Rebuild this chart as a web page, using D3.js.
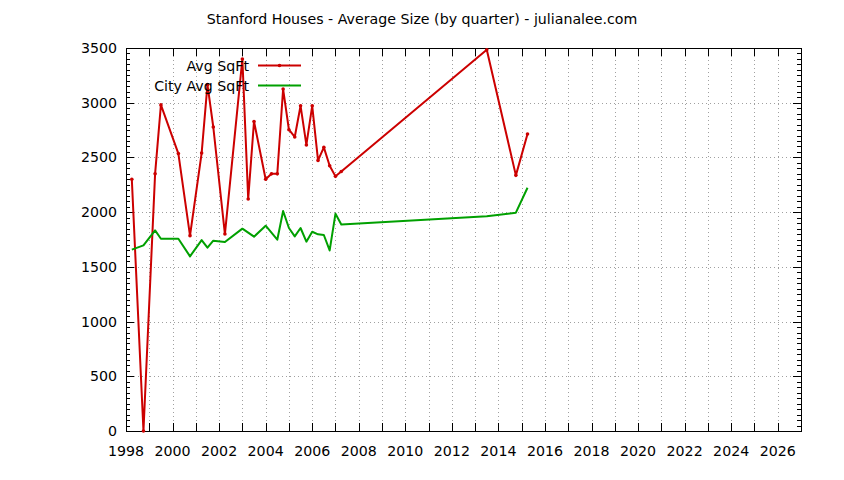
<!DOCTYPE html>
<html>
<head>
<meta charset="utf-8">
<script src="https://cdn.jsdelivr.net/npm/d3@7"></script>
<style>
  body { margin: 0; background: #fff; }
  svg text { font-family: "DejaVu Sans", sans-serif; font-size: 14.2px; fill: #000; }
</style>
</head>
<body>
<svg id="chart" width="844" height="480"></svg>
<script>
// Stanford average sqft by quarter
var avgYears = [1998.25, 1998.75, 1999.25, 1999.5, 2000.25, 2000.75, 2001.25, 2001.5, 2001.75, 2002.25,
  2003.0, 2003.25, 2003.5, 2004.0, 2004.25, 2004.5, 2004.75, 2005.0, 2005.25, 2005.5,
  2005.75, 2006.0, 2006.25, 2006.5, 2006.75, 2007.0, 2007.25, 2013.5, 2014.75, 2015.25];
var avgSqft = [2300, 0, 2350, 2980, 2535, 1785, 2540, 3165, 2778, 1800,
  3400, 2120, 2829, 2300, 2350, 2350, 3125, 2753, 2687, 2972,
  2614, 2972, 2473, 2592, 2424, 2327, 2372, 3484, 2336, 2714];

// city average
var cityYears = [1998.25, 1998.75, 1999.25, 1999.5, 2000.25, 2000.75, 2001.25, 2001.5, 2001.75, 2002.25,
  2003.0, 2003.5, 2004.0, 2004.5, 2004.75, 2005.0, 2005.25, 2005.5, 2005.75, 2006.0,
  2006.25, 2006.5, 2006.75, 2007.0, 2007.25, 2013.5, 2014.75, 2015.25];
var citySqft = [1657, 1696, 1833, 1757, 1757, 1596, 1745, 1675, 1739, 1727,
  1849, 1776, 1876, 1748, 2010, 1855, 1778, 1855, 1730, 1821,
  1797, 1791, 1650, 1986, 1888, 1962, 1995, 2223];

var yTicks = [0, 500, 1000, 1500, 2000, 2500, 3000, 3500];
var xLabels = [1998, 2000, 2002, 2004, 2006, 2008, 2010, 2012, 2014, 2016, 2018, 2020, 2022, 2024, 2026];

var svg = d3.select("#chart");
// plot box (note: "top" is taken by window.top)
var pLeft = 126, pRight = 801, pTop = 48, pBottom = 431;

var x = d3.scaleLinear().domain([1998, 2027]).range([pLeft, pRight]);
var y = d3.scaleLinear().domain([0, 3500]).range([pBottom, pTop]);

var years = d3.range(1998, 2027);
var minorY = d3.range(0, 3501, 50);

// grid
var grid = svg.append("g").attr("stroke", "#a0a0a0").attr("stroke-width", 1).attr("stroke-dasharray", "1,3");
grid.selectAll(".gx").data(years.slice(1)).enter().append("line")
  .attr("x1", function(d) { return Math.round(x(d)) + 0.5; })
  .attr("x2", function(d) { return Math.round(x(d)) + 0.5; })
  .attr("y1", pTop).attr("y2", pBottom);
grid.selectAll(".gy").data(yTicks.slice(1, -1)).enter().append("line")
  .attr("y1", function(d) { return Math.round(y(d)) + 0.5; })
  .attr("y2", function(d) { return Math.round(y(d)) + 0.5; })
  .attr("x1", pLeft).attr("x2", pRight);

// ticks, all four sides
var ticks = svg.append("g").attr("stroke", "#000").attr("stroke-width", 1);
years.forEach(function(d) {
  var px = Math.round(x(d)) + 0.5;
  ticks.append("line").attr("x1", px).attr("x2", px).attr("y1", pBottom).attr("y2", pBottom - 8);
  ticks.append("line").attr("x1", px).attr("x2", px).attr("y1", pTop).attr("y2", pTop + 8);
});
minorY.forEach(function(d) {
  var py = Math.round(y(d)) + 0.5;
  var len = d % 500 == 0 ? 8 : 4;
  ticks.append("line").attr("x1", pLeft).attr("x2", pLeft + len).attr("y1", py).attr("y2", py);
  ticks.append("line").attr("x1", pRight).attr("x2", pRight - len).attr("y1", py).attr("y2", py);
});

// border
svg.append("rect")
  .attr("x", pLeft + 0.5).attr("y", pTop + 0.5)
  .attr("width", pRight - pLeft).attr("height", pBottom - pTop)
  .attr("fill", "none").attr("stroke", "#000");

// tick labels
svg.selectAll(".yl").data(yTicks).enter().append("text")
  .attr("x", pLeft - 9).attr("y", function(d) { return y(d) + 5; })
  .attr("text-anchor", "end")
  .text(function(d) { return d; });
svg.selectAll(".xl").data(xLabels).enter().append("text")
  .attr("x", function(d) { return x(d); }).attr("y", pBottom + 25)
  .attr("text-anchor", "middle")
  .text(function(d) { return d; });

// title
svg.append("text").attr("x", 422).attr("y", 24).attr("text-anchor", "middle")
  .text("Stanford Houses - Average Size (by quarter) - julianalee.com");

// lines
var avgData = avgYears.map(function(d, i) { return [d, avgSqft[i]]; });
var cityData = cityYears.map(function(d, i) { return [d, citySqft[i]]; });
var line = d3.line().x(function(d) { return x(d[0]); }).y(function(d) { return y(d[1]); });

svg.append("path").datum(avgData).attr("d", line)
  .attr("fill", "none").attr("stroke", "#cc0000").attr("stroke-width", 2).attr("stroke-linejoin", "round");
svg.selectAll(".pt").data(avgData).enter().append("circle")
  .attr("cx", function(d) { return x(d[0]); })
  .attr("cy", function(d) { return y(d[1]); })
  .attr("r", 1.8).attr("fill", "#cc0000");

svg.append("path").datum(cityData).attr("d", line)
  .attr("fill", "none").attr("stroke", "#00a000").attr("stroke-width", 2).attr("stroke-linejoin", "round");

// legend
var leg = svg.append("g");
leg.append("text").attr("x", 249).attr("y", 71).attr("text-anchor", "end").text("Avg SqFt");
leg.append("line").attr("x1", 258).attr("x2", 301).attr("y1", 65.5).attr("y2", 65.5)
  .attr("stroke", "#cc0000").attr("stroke-width", 2);
leg.append("circle").attr("cx", 279.5).attr("cy", 65.5).attr("r", 1.8).attr("fill", "#cc0000");
leg.append("text").attr("x", 249).attr("y", 91).attr("text-anchor", "end").text("City Avg SqFt");
leg.append("line").attr("x1", 258).attr("x2", 301).attr("y1", 85.5).attr("y2", 85.5)
  .attr("stroke", "#00a000").attr("stroke-width", 2);
</script>
</body>
</html>
